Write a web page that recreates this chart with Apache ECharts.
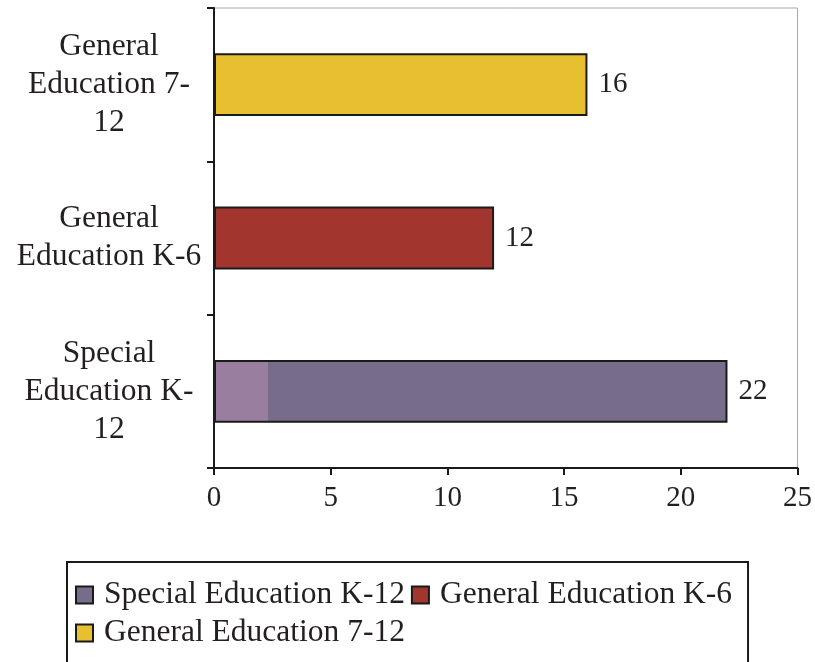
<!DOCTYPE html>
<html>
<head>
<meta charset="utf-8">
<script src="https://cdn.jsdelivr.net/npm/echarts@6/dist/echarts.min.js"></script>
<style>
  html, body { margin: 0; padding: 0; background: #ffffff; }
  #chart { width: 815px; height: 662px; }
</style>
</head>
<body>
<div id="chart"></div>
<script>
// Program categories, listed bottom to top along the vertical axis
const categories = ['Special Education K-12', 'General Education K-6', 'General Education 7-12'];
// Wrapped tick labels shown beside each bar
const tickLabels = ['Special\nEducation K-\n12', 'General\nEducation K-6', 'General\nEducation 7-\n12'];
// One value per program
const specialK12 = [22, '-', '-'];
const generalK6 = ['-', 12, '-'];
const general712 = ['-', '-', 16];
// Horizontal axis ticks
const xTicks = [0, 5, 10, 15, 20, 25];

const FONT = '"Liberation Serif", "Times New Roman", serif';
const TEXT = '#231f20';

const chart = echarts.init(document.getElementById('chart'), null, { renderer: 'canvas' });

function barSeries(name, data, color) {
  return {
    name: name,
    type: 'bar',
    stack: 'all',
    barWidth: '41%',
    data: data,
    itemStyle: { color: color, borderColor: '#1a1a1a', borderWidth: 2 },
    label: {
      show: true,
      position: 'right',
      distance: 11,
      fontFamily: FONT,
      fontSize: 29,
      color: TEXT
    }
  };
}

// Purple bar carries a lighter band at its base
const purpleFill = new echarts.graphic.LinearGradient(0, 0, 1, 0, [
  { offset: 0, color: '#9a7ea0' },
  { offset: 0.105, color: '#9a7ea0' },
  { offset: 0.106, color: '#776d8a' },
  { offset: 1, color: '#776d8a' }
]);

const option = {
  backgroundColor: '#ffffff',
  animation: false,
  grid: {
    left: 214, right: 16, top: 8, bottom: 194,
    show: true, borderColor: '#a8a8a8', borderWidth: 1, backgroundColor: 'transparent'
  },
  xAxis: {
    type: 'value',
    min: xTicks[0],
    max: xTicks[xTicks.length - 1],
    interval: 5,
    splitLine: { show: false },
    axisLine: { show: true, lineStyle: { color: '#1a1a1a', width: 2 } },
    axisTick: { show: true, length: 7, lineStyle: { color: '#1a1a1a', width: 2 } },
    axisLabel: { margin: 16, fontFamily: FONT, fontSize: 29, color: TEXT }
  },
  yAxis: {
    type: 'category',
    data: categories,
    axisLine: { show: true, lineStyle: { color: '#1a1a1a', width: 2 } },
    axisTick: { show: true, length: 7, lineStyle: { color: '#1a1a1a', width: 2 } },
    axisLabel: {
      margin: 105,
      align: 'center',
      lineHeight: 38,
      fontFamily: FONT,
      fontSize: 31.5,
      color: TEXT,
      formatter: function (v) { return tickLabels[categories.indexOf(v)]; }
    }
  },
  legend: {
    left: 67,
    top: 562,
    width: 700,
    orient: 'horizontal',
    padding: [17, 16, 60, 8],
    itemGap: 6,
    itemWidth: 17,
    itemHeight: 17,
    borderColor: '#1a1a1a',
    borderWidth: 2,
    textStyle: { fontFamily: FONT, fontSize: 31.5, color: TEXT, padding: [0, 0, 0, 6], lineHeight: 32 },
    data: [
      { name: 'Special Education K-12', icon: 'rect', itemStyle: { color: '#776d8a', borderColor: '#1a1a1a', borderWidth: 2 } },
      { name: 'General Education K-6', icon: 'rect', itemStyle: { color: '#a3352f', borderColor: '#1a1a1a', borderWidth: 2 } },
      { name: 'General Education 7-12', icon: 'rect', itemStyle: { color: '#e6c030', borderColor: '#1a1a1a', borderWidth: 2 } }
    ]
  },
  series: [
    barSeries('Special Education K-12', specialK12, purpleFill),
    barSeries('General Education K-6', generalK6, '#a3352f'),
    barSeries('General Education 7-12', general712, '#e6c030')
  ]
};

chart.setOption(option);
</script>
</body>
</html>
